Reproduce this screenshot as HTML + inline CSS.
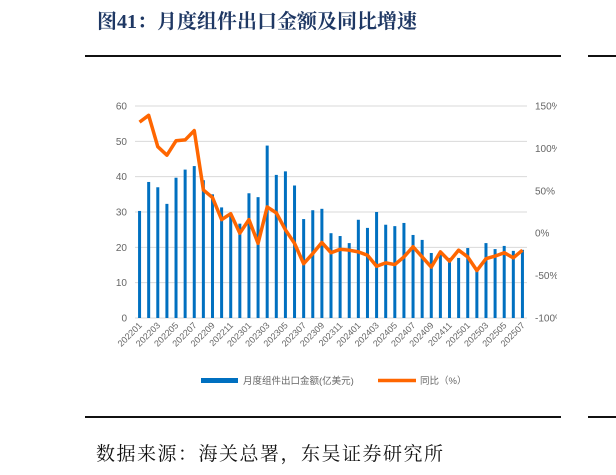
<!DOCTYPE html>
<html><head><meta charset="utf-8"><style>
body{margin:0;width:616px;height:475px;background:#fff;overflow:hidden;position:relative;font-family:"Liberation Sans","Noto Sans CJK SC",sans-serif}
.t{position:absolute;left:97px;top:5px;font:bold 20px "Liberation Serif","Noto Serif CJK SC",serif;color:#1f3864;white-space:nowrap}
.src{position:absolute;left:96px;top:439px;font:19px "Liberation Serif","Noto Serif CJK SC",serif;color:#111;white-space:nowrap;letter-spacing:1.5px}
.hl{position:absolute;height:2px;background:#111}
</style></head><body>
<div class="t">图41：月度组件出口金额及同比增速</div>
<div class="hl" style="left:85px;top:55px;width:476px"></div>
<div class="hl" style="left:588px;top:55px;width:28px"></div>
<div class="hl" style="left:85px;top:416px;width:476px"></div>
<div class="hl" style="left:588px;top:416px;width:28px"></div>
<div class="src">数据来源：海关总署，东吴证券研究所</div>
<svg id="c" width="616" height="475" style="position:absolute;left:0;top:0"><defs><clipPath id="cl"><rect x="0" y="0" width="557" height="475"/></clipPath></defs></svg>
<script>
const months=[];for(let y=2022;y<=2025;y++)for(let m=1;m<=12;m++){if(y===2025&&m>7)break;months.push(y+String(m).padStart(2,'0'));}
const exportValues=[30.3,38.5,37,32.3,39.7,42,43,39,35,31.3,29,26.7,35.3,34.2,48.8,40.5,41.5,37.5,28,30.5,30.9,24,23.2,21.2,27.8,25.5,30,26.4,26,26.9,23.5,22.1,18.4,18.4,17,17,19.8,13.6,21.2,19.5,20.4,19,19.3];
const yoyValues=[131,139,102,92,109,110,121,51,42,16,23,0,16,-12,31,24,4,-12,-36,-24,-11,-23,-19,-20,-22,-26,-39,-35,-37,-28,-16,-28,-40,-22,-33,-20,-28,-44,-30,-27,-23,-29,-20];
const leftTicks=[0,10,20,30,40,50,60];
const rightTicks=[-100,-50,0,50,100,150];
const NS='http://www.w3.org/2000/svg',svg=document.getElementById('c');
const x0=135,x1=527,yT=106,yB=318;
const step=(x1-x0)/months.length;
const xs=i=>x0+step*(i+0.5);
const yL=v=>yB-(v/60)*(yB-yT);
const yR=v=>yB-((v+100)/250)*(yB-yT);
function el(t,a,txt){const e=document.createElementNS(NS,t);for(const k in a)e.setAttribute(k,a[k]);if(txt!=null)e.textContent=txt;svg.appendChild(e);return e;}
leftTicks.forEach(v=>{
 const g=el('line',{x1:x0,x2:x1,y1:yL(v),y2:yL(v),stroke:'#d9d9d9','stroke-width':1});
 
 
 const t=el('text',{x:127,y:yL(v)+3.5,'text-anchor':'end','font-size':10,fill:'#666'},v);
 
 
});
rightTicks.forEach(v=>{
 const t=el('text',{x:535,y:yR(v)+3.5,'font-size':10,fill:'#666','clip-path':'url(#cl)'},v+'%');
 
 
});
exportValues.forEach((v,i)=>{
 const r=el('rect',{x:xs(i)-1.5,y:yL(v),width:3,height:yB-yL(v),fill:'#0070c0'});
 
 
});
const p=el('polyline',{points:yoyValues.map((v,i)=>xs(i)+','+yR(v)).join(' '),fill:'none',stroke:'#ff6600','stroke-width':3.5,'stroke-linejoin':'round'});


months.forEach((m,i)=>{if(i%2)return;
 const t=el('text',{x:xs(i)+3,y:yB+8,'text-anchor':'end','font-size':9,fill:'#666',transform:`rotate(-45 ${xs(i)+3} ${yB+8})`},m);
 
 
});
let r=el('rect',{x:201,y:378,width:37,height:5,fill:'#0070c0'});


let t=el('text',{x:243,y:384,'font-size':9.5,fill:'#666'},'月度组件出口金额(亿美元)');


let l=el('line',{x1:378,x2:416,y1:380.5,y2:380.5,stroke:'#ff6600','stroke-width':3.5});


t=el('text',{x:420,y:384,'font-size':9.5,fill:'#666'},'同比（%）');


</script>
</body></html>
